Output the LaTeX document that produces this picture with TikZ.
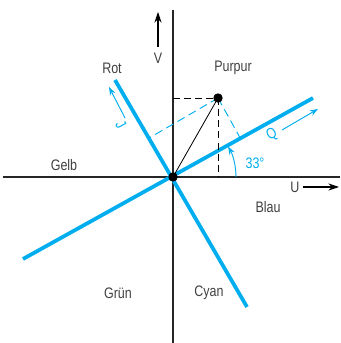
\documentclass[tikz,border=0pt]{standalone}
\usepackage{fontspec}
\setmainfont{Liberation Sans}[FakeStretch=0.82]
\usetikzlibrary{calc,arrows.meta}
\definecolor{tvblue}{HTML}{00AEEF}
\definecolor{txtgray}{HTML}{404040}
\tikzset{
    axis/.style={line width=1.1pt, black!85},
    colaxis/.style={line width=3.2pt, tvblue},
    proj/.style={dash pattern=on 6pt off 3.5pt, line width=0.8pt},
    bproj/.style={dash pattern=on 7pt off 4pt, line width=0.8pt, tvblue},
    lbl/.style={font=\fontsize{13}{15}\selectfont, text=txtgray, inner sep=0pt},
    dot/.style={circle, fill=black, inner sep=0pt, minimum size=8pt},
    bigarr/.style={-{Stealth[length=9pt, width=6pt]}, line width=0.9pt},
    bluearr/.style={-{Stealth[length=7pt, width=5pt]}, tvblue, line width=0.8pt}
}
\begin{document}
\begin{tikzpicture}[x=0.03cm, y=0.03cm]
    \useasboundingbox (-173,-166) rectangle (167,177);

    % U and V axes
    \coordinate (O) at (0,0);
    \coordinate (uw) at (-170,0);
    \coordinate (ue) at (167,0);
    \coordinate (vn) at (0,167);
    \coordinate (vs) at (0,-166);
    \draw[axis] (uw) -- (ue);
    \draw[axis] (vs) -- (vn);

    % I and Q axes
    \coordinate (qa) at (-150,-82);
    \coordinate (qb) at (140,79);
    \coordinate (ia) at (-58,97);
    \coordinate (ib) at (74,-130);
    \draw[colaxis] (qa) -- (qb);
    \draw[colaxis] (ia) -- (ib);

    % Purpur vector and its projections
    \coordinate (P) at (45,79);
    \coordinate (pv) at (0,79);
    \coordinate (pu) at (45,0);
    \coordinate (pq) at ($(qa)!(P)!(qb)$);
    \coordinate (pi) at ($(ia)!(P)!(ib)$);
    \draw[proj] (pv) -- (P);
    \draw[proj] (P) -- (pu);
    \draw[bproj] (P) -- (pq);
    \draw[bproj] (P) -- (pi);
    \draw[line width=0.7pt] (O) -- (P);
    \node[dot] (pt) at (P) {};
    \node[dot] (org) at (O) {};

    % angle
    \draw[bluearr] (63,0) arc (0:29:63);
    \node[lbl, text=tvblue] (ang) at (82,14) {33°};

    % axis arrows with labels
    \node[lbl] (vl) at (-15,119) {V};
    \coordinate (va) at (-15,130);
    \coordinate (vb) at (-15,165);
    \draw[bigarr] (va) -- (vb);
    \node[lbl] (ul) at (122,-10) {U};
    \coordinate (ua) at (130,-10);
    \coordinate (ub) at (166,-10);
    \draw[bigarr] (ua) -- (ub);

    \node[lbl, text=tvblue, rotate=29] (ql) at (99,42) {Q};
    \coordinate (qsa) at (109,47);
    \coordinate (qsb) at (145,68);
    \draw[bluearr] (qsa) -- (qsb);
    \node[lbl, text=tvblue, rotate=-61] (il) at (-52,52) {J};
    \coordinate (isa) at (-48,59);
    \coordinate (isb) at (-64,90);
    \draw[bluearr] (isa) -- (isb);

    % colour names
    \node[lbl] (rot) at (-61,109) {Rot};
    \node[lbl] (purpur) at (60,109) {Purpur};
    \node[lbl] (gelb) at (-109,12) {Gelb};
    \node[lbl] (blau) at (95,-30) {Blau};
    \node[lbl] (gruen) at (-55,-116) {Grün};
    \node[lbl] (cyan) at (36,-116) {Cyan};
\end{tikzpicture}
\end{document}
